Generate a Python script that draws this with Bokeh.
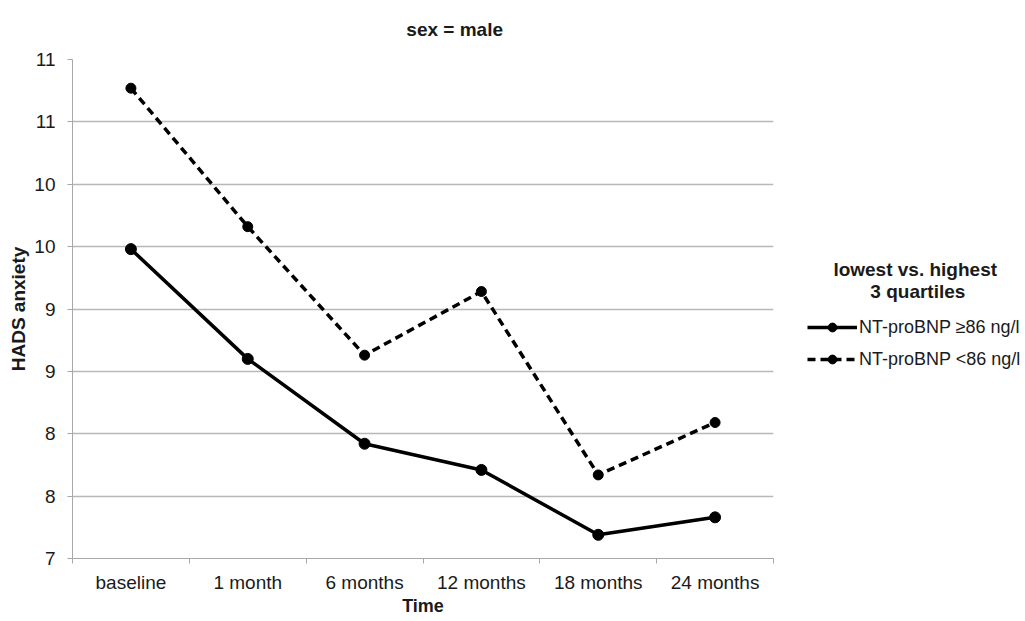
from bokeh.plotting import figure
from bokeh.models import (FactorRange, Range1d, LinearAxis, CategoricalAxis, FixedTicker,
                          Legend, LegendItem, Title, Grid)
from bokeh.embed import file_html
from bokeh.resources import INLINE

# ---- data ----
categories = ["baseline", "1 month", "6 months", "12 months", "18 months", "24 months"]
high_label = "NT-proBNP \u226586 ng/l"
low_label = "NT-proBNP <86 ng/l"
high_values = [9.48, 8.60, 7.92, 7.71, 7.19, 7.33]
low_values = [10.77, 9.66, 8.63, 9.14, 7.67, 8.09]
y_ticks = [7, 7.5, 8, 8.5, 9, 9.5, 10, 10.5, 11]
y_tick_labels = ["7", "8", "8", "9", "9", "10", "10", "11", "11"]
title_text = "sex = male"
x_title = "Time"
y_title = "HADS anxiety"
legend_title_lines = ["lowest vs. highest", "3 quartiles"]

FONT = "Liberation Sans"
TXT = "#1a1a1a"
AX = "#a8a8a8"
GRID = "#b8b8b8"
NB = "\u00a0"

p = figure(frame_width=701, frame_height=499,
           x_range=FactorRange(*categories, range_padding=0),
           y_range=Range1d(y_ticks[0], y_ticks[-1]),
           x_axis_location=None, y_axis_location=None,
           output_backend="svg", toolbar_location=None,
           min_border_left=72, min_border_right=252,
           min_border_top=59, min_border_bottom=60)
p.outline_line_color = None
p.background_fill_color = "white"

# title (centred over the frame, shifted right like the original)
p.title = Title(text=NB * 12 + title_text, align="center", standoff=36, vertical_align="top",
                text_font=FONT, text_font_size="19px", text_font_style="bold",
                text_color=TXT)

# y axis
yax = LinearAxis(ticker=FixedTicker(ticks=y_ticks, minor_ticks=[]),
                 major_label_overrides={t: l for t, l in zip(y_ticks, y_tick_labels)},
                 axis_label=y_title, axis_label_text_font=FONT,
                 axis_label_text_font_size="19px", axis_label_text_font_style="bold",
                 axis_label_text_color=TXT, axis_label_standoff=2,
                 major_label_text_font=FONT, major_label_text_font_size="19px",
                 major_label_text_color=TXT, major_label_standoff=12,
                 axis_line_color=AX, major_tick_line_color=AX,
                 major_tick_out=5, major_tick_in=0, minor_tick_line_color=None)
p.add_layout(yax, "left")

# x axis: boundary ticks between categories (synthetic positions 0..n), adjacent to frame
bounds = list(range(len(categories) + 1))
tick_axis = LinearAxis(ticker=FixedTicker(ticks=bounds, minor_ticks=[]),
                       major_label_overrides={i: "" for i in bounds},
                       major_label_text_font_size="1px", major_label_standoff=0,
                       axis_line_color=AX, major_tick_line_color=AX,
                       major_tick_out=5, major_tick_in=0, minor_tick_line_color=None)
p.add_layout(tick_axis, "below")

cat_axis = CategoricalAxis(axis_line_color=None, major_tick_line_color=None,
                           major_tick_out=0, major_tick_in=0,
                           major_label_text_font=FONT, major_label_text_font_size="19px",
                           major_label_text_color=TXT, major_label_standoff=8,
                           axis_label=x_title, axis_label_text_font=FONT,
                           axis_label_text_font_size="18px", axis_label_text_font_style="bold",
                           axis_label_text_color=TXT, axis_label_standoff=0)
p.add_layout(cat_axis, "below")

p.xgrid.visible = False
p.ygrid.grid_line_color = None
p.add_layout(Grid(dimension=1, ticker=yax.ticker, grid_line_color=GRID, grid_line_width=1.3))

# series
l1 = p.line(categories, high_values, line_color="black", line_width=3.5)
s1 = p.scatter(categories, high_values, marker="circle", size=11, fill_color="black", line_color="black")
l2 = p.line(categories, low_values, line_color="black", line_width=3.5, line_dash="8 5")
s2 = p.scatter(categories, low_values, marker="circle", size=10, fill_color="black", line_color="black")

legend_title = NB * 5 + legend_title_lines[0] + "\n" + NB * 12 + legend_title_lines[1]
legend = Legend(items=[LegendItem(label=high_label, renderers=[l1, s1]),
                       LegendItem(label=low_label, renderers=[l2, s2])],
                location=(34, 188), padding=0, margin=0,
                title=legend_title, title_text_font=FONT, title_text_font_size="19px",
                title_text_font_style="bold", title_text_color=TXT,
                title_text_line_height=1.05, title_standoff=13,
                border_line_color=None, background_fill_alpha=0,
                glyph_width=50, glyph_height=22, label_height=22, spacing=10,
                label_standoff=2, label_text_font=FONT, label_text_font_size="18px",
                label_text_color=TXT)
p.add_layout(legend, "right")

open("out.html", "w").write(file_html(p, INLINE))
